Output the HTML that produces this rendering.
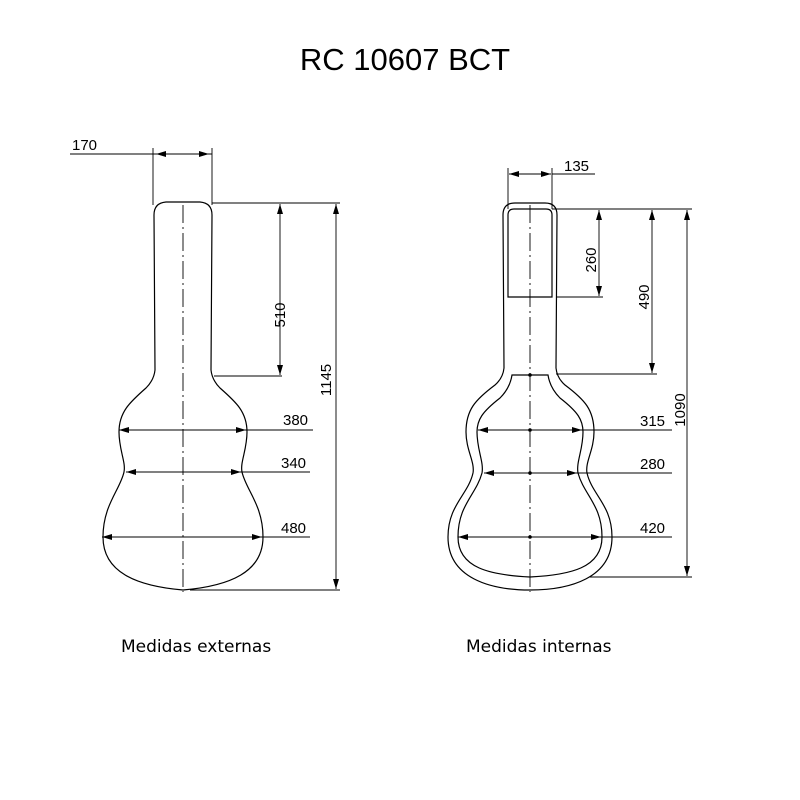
<!DOCTYPE html>
<html><head><meta charset="utf-8"><style>
html,body{margin:0;padding:0;background:#fff;}
svg{display:block;}
text{font-family:"Liberation Sans",sans-serif;fill:#000;}
</style></head><body>
<svg width="800" height="800" viewBox="0 0 800 800" xmlns="http://www.w3.org/2000/svg">
<defs>
<marker id="a" viewBox="0 0 10 6" refX="10" refY="3" markerWidth="10" markerHeight="6" markerUnits="userSpaceOnUse" orient="auto-start-reverse">
<path d="M0,0 L10,3 L0,6 Z" fill="#000"/></marker>
</defs>
<text x="405" y="70" font-size="31" text-anchor="middle">RC 10607 BCT</text>

<g fill="none" stroke="#000" stroke-width="1.2">
<path d="M183,202 L200,202 Q212,203 212,215 L211,370 Q212,380 220,388 C236,402 247,412 247,432 C247,450 240,462 242,472 C246,490 263,505 263,537 C263,572 230,586 183,590"/>
<path d="M183,202 L200,202 Q212,203 212,215 L211,370 Q212,380 220,388 C236,402 247,412 247,432 C247,450 240,462 242,472 C246,490 263,505 263,537 C263,572 230,586 183,590" transform="translate(366,0) scale(-1,1)"/>
<path d="M530,203 L545,203 Q557,203 557,215 L556,368 Q557,378 565,385 C585,400 594,410 594,432 C594,450 585,462 587,473 C592,495 612,505 612,537 C612,578 570,590 530,590"/>
<path d="M530,203 L545,203 Q557,203 557,215 L556,368 Q557,378 565,385 C585,400 594,410 594,432 C594,450 585,462 587,473 C592,495 612,505 612,537 C612,578 570,590 530,590" transform="translate(1060,0) scale(-1,1)"/>
<path d="M530,375 L548,375 Q550,388 560,398 C578,412 583,420 583,432 C583,450 576,462 578,473 C584,495 602,505 602,537 C602,568 570,575 530,577"/>
<path d="M530,375 L548,375 Q550,388 560,398 C578,412 583,420 583,432 C583,450 576,462 578,473 C584,495 602,505 602,537 C602,568 570,575 530,577" transform="translate(1060,0) scale(-1,1)"/>
<path d="M508,297 L508,215 Q508,209 514,209 L546,209 Q552,209 552,215 L552,297 Z"/>
</g>

<g fill="none" stroke="#000" stroke-width="0.9">
<line x1="183" y1="205" x2="183" y2="592" stroke-dasharray="18,4,2,4"/>
<line x1="530" y1="205" x2="530" y2="592" stroke-dasharray="18,4,2,4"/>
<line x1="70" y1="154" x2="212" y2="154"/>
<line x1="153" y1="148" x2="153" y2="205"/>
<line x1="212" y1="148" x2="212" y2="205"/>
<line x1="156" y1="154" x2="209" y2="154" marker-start="url(#a)" marker-end="url(#a)"/>
<line x1="212" y1="203" x2="340" y2="203"/>
<line x1="214" y1="376" x2="282" y2="376"/>
<line x1="280" y1="204" x2="280" y2="375" marker-start="url(#a)" marker-end="url(#a)"/>
<line x1="190" y1="590" x2="340" y2="590"/>
<line x1="336" y1="204" x2="336" y2="589" marker-start="url(#a)" marker-end="url(#a)"/>
<line x1="119" y1="430" x2="246" y2="430" marker-start="url(#a)" marker-end="url(#a)"/>
<line x1="246" y1="430" x2="313" y2="430"/>
<line x1="126" y1="472" x2="241" y2="472" marker-start="url(#a)" marker-end="url(#a)"/>
<line x1="241" y1="472" x2="310" y2="472"/>
<line x1="102" y1="537" x2="262" y2="537" marker-start="url(#a)" marker-end="url(#a)"/>
<line x1="262" y1="537" x2="310" y2="537"/>
<line x1="508" y1="168" x2="508" y2="209"/>
<line x1="552" y1="168" x2="552" y2="209"/>
<line x1="509" y1="174" x2="551" y2="174" marker-start="url(#a)" marker-end="url(#a)"/>
<line x1="552" y1="174" x2="595" y2="174"/>
<line x1="552" y1="209" x2="692" y2="209"/>
<line x1="557" y1="297" x2="603" y2="297"/>
<line x1="599" y1="210" x2="599" y2="296" marker-start="url(#a)" marker-end="url(#a)"/>
<line x1="556" y1="374" x2="657" y2="374"/>
<line x1="652" y1="210" x2="652" y2="373" marker-start="url(#a)" marker-end="url(#a)"/>
<line x1="590" y1="577" x2="692" y2="577"/>
<line x1="687" y1="210" x2="687" y2="576" marker-start="url(#a)" marker-end="url(#a)"/>
<line x1="478" y1="430" x2="582" y2="430" marker-start="url(#a)" marker-end="url(#a)"/>
<line x1="582" y1="430" x2="672" y2="430"/>
<line x1="484" y1="473" x2="577" y2="473" marker-start="url(#a)" marker-end="url(#a)"/>
<line x1="577" y1="473" x2="672" y2="473"/>
<line x1="458" y1="537" x2="601" y2="537" marker-start="url(#a)" marker-end="url(#a)"/>
<line x1="601" y1="537" x2="672" y2="537"/>
</g>
<g fill="#000">
<circle cx="530" cy="375" r="1.8"/><circle cx="530" cy="430" r="1.8"/><circle cx="530" cy="473" r="1.8"/><circle cx="530" cy="537" r="1.8"/>
</g>

<g font-size="15">
<text x="72" y="150">170</text>
<text x="283" y="425">380</text>
<text x="281" y="468">340</text>
<text x="281" y="533">480</text>
<text transform="translate(285,315) rotate(-90)" text-anchor="middle">510</text>
<text transform="translate(331,380) rotate(-90)" text-anchor="middle">1145</text>
<text x="564" y="171">135</text>
<text transform="translate(596,260) rotate(-90)" text-anchor="middle">260</text>
<text transform="translate(649,297) rotate(-90)" text-anchor="middle">490</text>
<text transform="translate(685,410) rotate(-90)" text-anchor="middle">1090</text>
<text x="640" y="426">315</text>
<text x="640" y="469">280</text>
<text x="640" y="533">420</text>
</g>
<text x="121" y="652" font-size="17" style="font-family:'DejaVu Sans',sans-serif">Medidas externas</text>
<text x="466" y="652" font-size="17" style="font-family:'DejaVu Sans',sans-serif">Medidas internas</text>
</svg>
</body></html>
